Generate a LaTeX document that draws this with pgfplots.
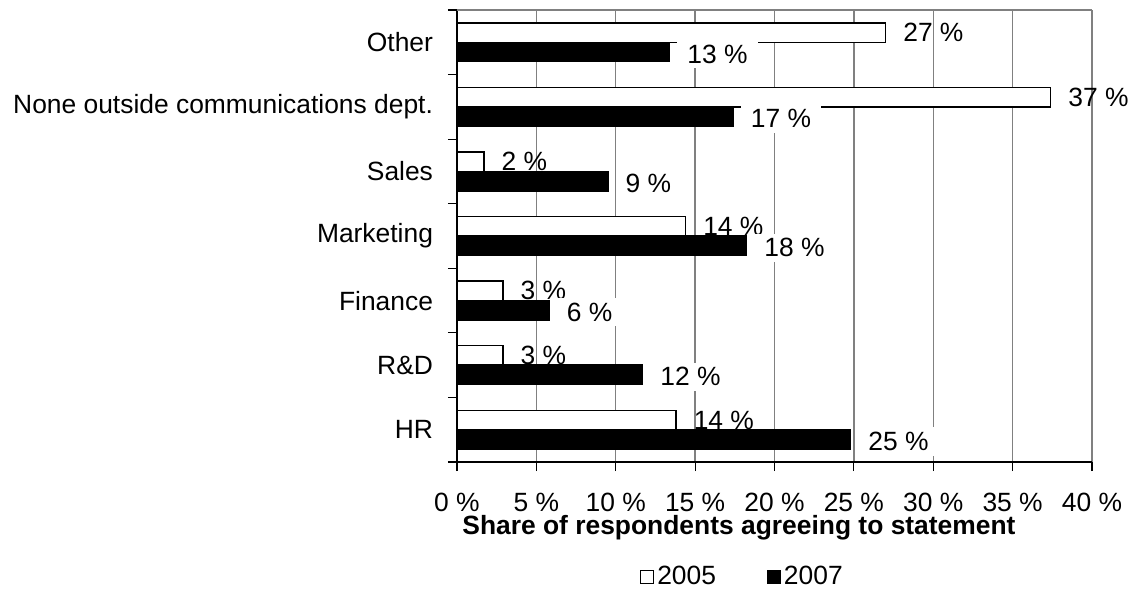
\documentclass[border=0pt]{standalone}
\usepackage{fontspec}
\setmainfont{Liberation Sans}
\usepackage{pgfplots}
\usepackage{pgfplotstable}
\pgfplotsset{compat=1.18}

\pgfplotstableread{
pos val lbl
0 13.8 14
1 2.9 3
2 2.9 3
3 14.4 14
4 1.7 2
5 37.4 37
6 27.0 27
}\dataA

\pgfplotstableread{
pos val lbl
0 24.8 25
1 11.7 12
2 5.8 6
3 18.25 18
4 9.5 9
5 17.4 17
6 13.4 13
}\dataB

\definecolor{gridgray}{HTML}{808080}

\begin{document}
\begin{tikzpicture}[font=\fontsize{13.25pt}{15.9pt}\selectfont]
\useasboundingbox (-228.5bp,-63.5bp) rectangle (338bp,231bp);
\begin{axis}[
  at={(0,0)}, anchor=south west,
  scale only axis, width=317.5bp, height=226bp,
  xbar, bar width=9.7bp,
  xmin=0, xmax=40, ymin=-0.5, ymax=6.5,
  axis lines*=left,
  axis line style={black, line width=0.6bp},
  xtick={0,5,...,40},
  xticklabels={0 \%,5 \%,10 \%,15 \%,20 \%,25 \%,30 \%,35 \%,40 \%},
  xticklabel style={inner ysep=0pt, yshift=-10.9bp},
  xmajorgrids,
  major grid style={gridgray, line width=0.65bp},
  ytick={-0.5,0.5,1.5,2.5,3.5,4.5,5.5,6.5},
  yticklabels={},
  extra y ticks={0,1,2,3,4,5,6},
  extra y tick labels={HR,R\&D,Finance,Marketing,Sales,None outside communications dept.,Other},
  extra y tick style={tick style={draw=none}, yticklabel style={xshift=-4bp}},
  tick align=outside, major tick length=4.5bp,
  tick style={black, line width=0.6bp},
  xlabel={\textbf{Share of respondents agreeing to statement}},
  xlabel style={at={(axis description cs:0.444,-0.1593)}, anchor=base, inner sep=0pt},
  clip=false,
  legend style={draw=none, fill=none, at={(axis description cs:0.4504,-0.2544)}, anchor=center,
    legend columns=-1, nodes={inner xsep=1.5bp},
    /tikz/every even column/.append style={column sep=24bp}},
  legend image code/.code={\draw[#1, line width=0.6bp] (0bp,-3.2bp) rectangle (6.4bp,3.2bp);},
  point meta=explicit symbolic,
  nodes near coords={\pgfplotspointmeta\ \%},
]
\addplot[fill=white, draw=black, line width=0.7bp, bar shift=4.85bp,
  every node near coord/.append style={anchor=west, inner xsep=5bp, inner ysep=2.4bp, xshift=3.5bp, fill=none}]
  table[x=val, y=pos, meta=lbl] {\dataA};
\addlegendentry{2005}
\addplot[fill=black, draw=black, line width=0.7bp, bar shift=-4.85bp,
  every node near coord/.append style={anchor=west, inner xsep=5bp, inner ysep=2.4bp, xshift=3.5bp, yshift=-1bp, fill=white}]
  table[x=val, y=pos, meta=lbl] {\dataB};
\addlegendentry{2007}
\draw[gridgray, line width=0.65bp] (rel axis cs:0,1) -- (rel axis cs:1,1);
\end{axis}
\end{tikzpicture}
\end{document}
